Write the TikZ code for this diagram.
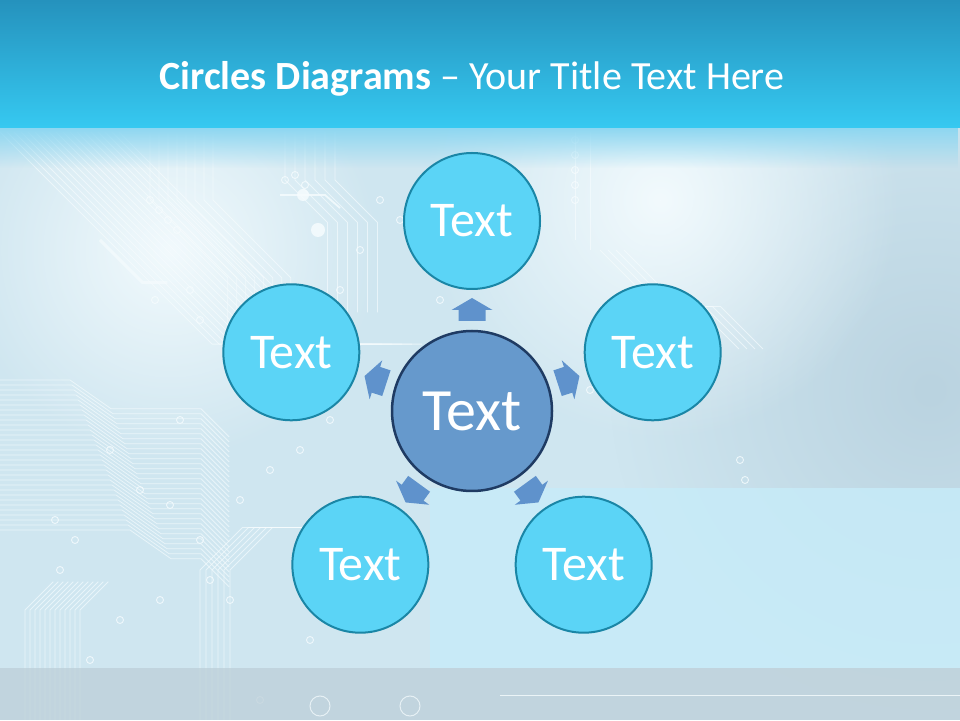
\documentclass[tikz,border=0pt]{standalone}
\usepackage{fontspec}
\setmainfont{Carlito}
\usetikzlibrary{calc,fadings}
\definecolor{bandtop}{HTML}{2592BD}
\definecolor{bandbot}{HTML}{36C9F1}
\definecolor{bgbase}{HTML}{CFE6F0}
\definecolor{bgglow}{HTML}{F2FAFD}
\definecolor{bglight}{HTML}{8ED7F1}
\definecolor{bgmid}{HTML}{BAD3E0}
\definecolor{bgpanel}{HTML}{C7ECF9}
\definecolor{bgstrip}{HTML}{BDCFD8}
\definecolor{outerfill}{HTML}{5BD4F6}
\definecolor{outerline}{HTML}{1A86A6}
\definecolor{centerfill}{HTML}{6699CC}
\definecolor{centerline}{HTML}{1F3B63}
\definecolor{arrowfill}{HTML}{5F92CC}
\definecolor{tracecol}{HTML}{F6FCFE}
\tikzfading[name=softglow, inner color=transparent!0, outer color=transparent!100]
\begin{document}
\begin{tikzpicture}[x=1pt,y=1pt,
  outercirc/.style={circle, draw=outerline, line width=2pt, fill=outerfill,
    minimum size=136pt, inner sep=0pt, text=white,
    font=\fontsize{50}{54}\selectfont},
  centrecirc/.style={circle, draw=centerline, line width=2.5pt, fill=centerfill,
    minimum size=160pt, inner sep=0pt, text=white,
    font=\fontsize{60}{64}\selectfont},
  blockarrow/.style={fill=arrowfill},
  traceline/.style={draw=tracecol, line width=0.8pt, opacity=0.65},
  tracedot/.style={draw=tracecol, line width=0.9pt, opacity=0.8}]
\useasboundingbox (0,0) rectangle (960,720);
% ---------- background ----------
\fill[bgbase] (0,0) rectangle (960,720);
\fill[bgmid, path fading=softglow] (930,330) circle (320);
\fill[bgglow, path fading=softglow] (660,520) circle (240);
\fill[bgglow, path fading=softglow] (170,470) circle (210);
% circuit traces: upper-left diagonal bundle
\foreach \i in {0,...,17}{
  \draw[traceline] (\i*7,588) -- ++(-45:300) -- ++(0:40+\i*3);
}
% lower-left stepped bundle
\foreach \i in {0,...,30}{
  \draw[traceline] (0,340-\i*5) -- ++(0:70+\i*2) -- ++(-35:50) -- ++(0:90-\i*2) -- ++(-45:40);
}
% vertical bundles bottom-left
\foreach \i in {0,...,11}{
  \draw[traceline] (25+\i*5,0) -- (25+\i*5,110) -- ++(45:40);
}
\foreach \i in {0,...,5}{
  \draw[traceline] (200+\i*6,0) -- (200+\i*6,150) -- ++(45:60) -- ++(0:70);
}
% upper-middle traces
\foreach \i in {0,...,7}{
  \draw[traceline] (150+\i*9,588) -- (150+\i*9,520) -- ++(-45:110) -- ++(0,-60);
}
\foreach \i in {0,...,5}{
  \draw[traceline] (285+\i*10,588) -- (285+\i*10,540) -- ++(-45:60) -- ++(0,-90);
}
\foreach \i in {0,...,3}{
  \draw[traceline] (600+\i*8,470) -- ++(-45:80) -- ++(0:40) -- ++(-45:60);
}
\draw[traceline] (575,588) -- (575,480);
\draw[traceline] (590,588) -- (590,470);
\foreach \x/\y in {150/520,159/510,168/500,177/490,285/540,295/545,305/535,
  155/420,190/430,200/400,235/390,250/360,320/350,330/300,300/270,
  270/250,240/220,200/180,160/120,120/100,90/60,55/200,75/180,
  380/520,400/500,420/470,360/470,340/430,60/150,180/300,110/270,
  575/580,575/565,575/550,575/535,575/520,440/420,310/80,260/20,
  590/330,602/330,740/260,745/240,140/230,170/215,210/140,230/120}{
  \draw[tracedot] (\x,\y) circle (3.5);
}
\draw[traceline, line width=1.8pt, opacity=0.8] (280,525) -- (325,525) -- (340,512);
\fill[tracecol, opacity=0.85] (303,525) circle (6);
\fill[tracecol, opacity=0.85] (318,490) circle (7);
\draw[traceline, line width=3pt] (100,480) -- ++(-45:60) -- ++(0:25);
% light band below title
\fill[bglight, path fading=south] (0,552) rectangle (960,592);
% lower right panel and bottom strip
\fill[bgpanel, opacity=0.8] (430,52) rectangle (960,232);
\fill[bgstrip, opacity=0.75] (0,0) rectangle (960,52);
\draw[tracecol, line width=1pt, opacity=0.8] (500,25) -- (960,25);
\draw[tracecol, line width=1pt, opacity=0.7] (320,14) circle (10);
\draw[tracecol, line width=1pt, opacity=0.7] (410,14) circle (10);
% title band
\shade[top color=bandtop, bottom color=bandbot] (0,592) rectangle (960,720);
% ---------- title ----------
\node[anchor=base, text=white, font=\fontsize{40}{44}\selectfont, inner sep=0pt]
  (title) at (472,630) {\textbf{Circles Diagrams} – Your Title Text Here};
% ---------- diagram ----------
\coordinate (cc) at (472,309);
\foreach \a in {90,18,-54,-126,162}{
  \begin{scope}[shift={(cc)}, rotate=\a]
    \fill[blockarrow] (90,-13.5) -- (101,-13.5) -- (101,-20.5) -- (113,0)
      -- (101,20.5) -- (101,13.5) -- (90,13.5) -- cycle;
  \end{scope}
}
\foreach \a [count=\i] in {90,18,-54,-126,162}{
  \node[outercirc] (o\i) at ($(cc)+(\a:190)$) {Text};
}
\node[centrecirc] (ctr) at (cc) {Text};
\end{tikzpicture}
\end{document}
